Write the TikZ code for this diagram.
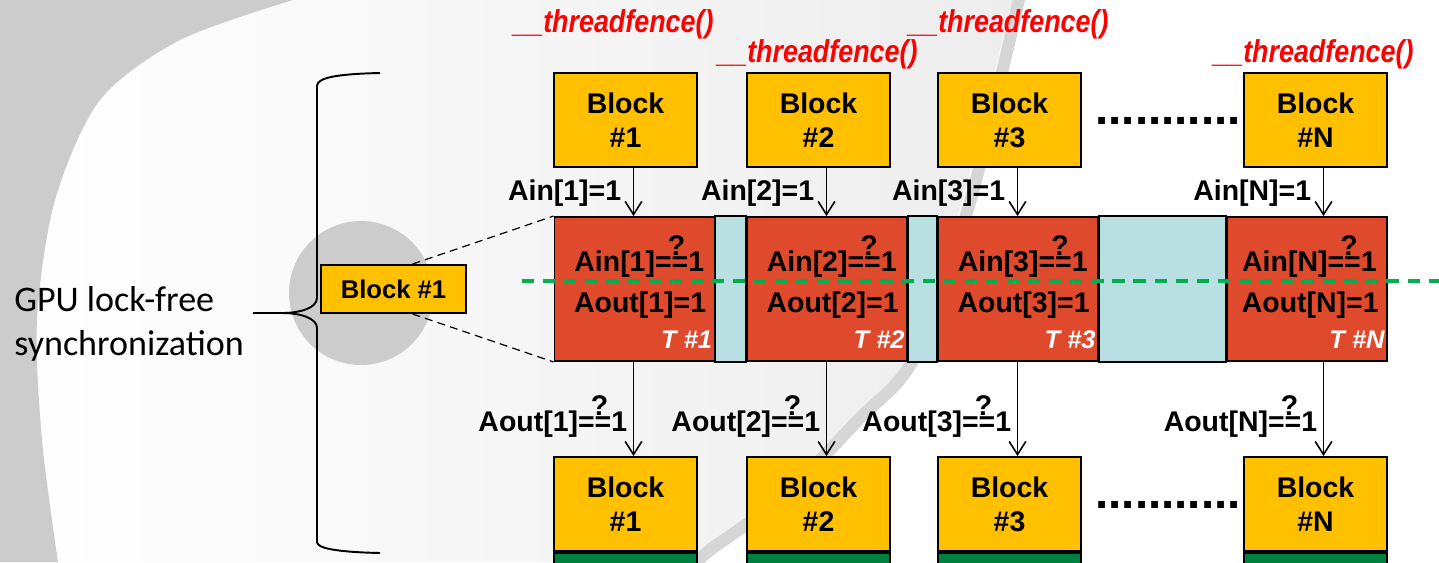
\documentclass[tikz,border=0pt]{standalone}
\usepackage{fontspec}
\setmainfont{Liberation Sans}
\newfontfamily\calibrifont{Carlito}
\newfontfamily\fencefont[FakeStretch=0.85]{Liberation Sans}
\usetikzlibrary{arrows.meta,calc}
\definecolor{blkyellow}{HTML}{FFC000}
\definecolor{cellred}{HTML}{E04A2C}
\definecolor{gapblue}{HTML}{B8DFE2}
\definecolor{syncgreen}{HTML}{00B050}
\definecolor{stripgreen}{HTML}{00803F}
\definecolor{fencered}{HTML}{FF0000}
\newcommand{\qeq}{\makebox[0pt][l]{\hspace{0.45em}\raisebox{0.55em}{?}}==}

\begin{document}
\begin{tikzpicture}[x=0.02cm, y=-0.02cm,
  blk/.style={draw, line width=1.1pt, fill=blkyellow, minimum width=2.86cm,
    minimum height=1.88cm, inner sep=0pt, align=center,
    font=\bfseries\fontsize{16.2}{19.3}\selectfont},
  cell/.style={draw, line width=1.1pt, fill=cellred, minimum width=3.2cm,
    minimum height=2.88cm, inner sep=0pt},
  gapbox/.style={draw, line width=1.1pt, fill=gapblue},
  strip/.style={draw, line width=1.1pt, fill=stripgreen, minimum width=2.86cm,
    minimum height=0.4cm, inner sep=0pt},
  lbl/.style={inner sep=0pt, font=\bfseries\fontsize{16.2}{19.3}\selectfont},
  tlbl/.style={inner sep=0pt, text=white, font=\bfseries\itshape\fontsize{14.5}{17}\selectfont},
  fence/.style={inner sep=0pt, text=fencered, font=\fencefont\bfseries\itshape\fontsize{18}{21}\selectfont},
  dotrow/.style={inner sep=0pt, font=\bfseries\fontsize{27}{30}\selectfont},
  arr/.style={-{Straight Barb[length=7.5pt,width=9.5pt]}, line width=0.9pt},
  zoomline/.style={dash pattern=on 4.5pt off 3pt, line width=0.7pt},
  syncline/.style={draw=syncgreen, line width=2pt, dash pattern=on 7pt off 5pt}]
\useasboundingbox (0,0) rectangle (1439,562);
\clip (0,0) rectangle (1439,562);
% ----- background swirl -----
\fill[white] (0,0) rectangle (1439,562);
\shade[left color=white, right color=black!7] (0,0) -- (1012,0)
  -- plot[smooth] coordinates {(1012,0) (985,110) (958,215) (907,360) (853,417) (780,493) (707,547) (690,562)}
  -- (0,562) -- cycle;
\draw[line width=7pt, black!16] plot[smooth] coordinates
  {(1020,-5) (993,110) (966,215) (913,360) (858,420) (783,497) (710,550) (690,570)};
\fill[black!20] (0,0) -- plot[smooth] coordinates
  {(293,0) (180,40) (100,100) (55,200) (37,320) (42,440) (58,562)} -- (0,562) -- cycle;
\fill[black!20] (361,293) circle (72);
% ----- left: one block zoomed -----
\node[blk, minimum width=2.9cm, minimum height=0.96cm,
  font=\bfseries\fontsize{14.6}{17}\selectfont] (blk0) at (393.5,289) {Block \#1};
\draw[line width=1.1pt] (380,73) .. controls (335,74) and (317,78) .. (317,86)
  -- (317,298) .. controls (317,308) and (300,313) .. (282,313) -- (253,313)
  (282,313) .. controls (300,313) and (317,318) .. (317,328)
  -- (317,542) .. controls (317,548) and (335,552) .. (380,553);
\node[inner sep=0pt, anchor=base west, align=left,
  font=\calibrifont\fontsize{20.5}{25}\selectfont] (gpu) at (14,355)
  {GPU lock-free\\synchronization};
% ----- blocks, top and bottom -----
\foreach \k/\xb in {1/625.5, 2/818.5, 3/1009.5, N/1315.5}{
  \node[blk] (t\k) at (\xb,120) {Block\\\#\k};
  \node[blk] (b\k) at (\xb,504) {Block\\\#\k};
  \node[strip, anchor=north] (s\k) at (b\k.south) {};
  \coordinate (a\k) at ($(t\k.south)+(8,0)$);
  \coordinate (d\k) at ($(b\k.north)+(8,0)$);
}
\node[dotrow, anchor=base] (dtop) at (1168,124) {...........};
\node[dotrow, anchor=base] (dbot) at (1168,508) {...........};
% ----- threadfences -----
\node[fence, anchor=base west] (f1) at (513,32) {\_\_threadfence()};
\node[fence, anchor=base west] (f2) at (717,62) {\_\_threadfence()};
\node[fence, anchor=base west] (f3) at (908,32) {\_\_threadfence()};
\node[fence, anchor=base west] (fN) at (1213,62) {\_\_threadfence()};
% ----- middle row: one cell per thread -----
\foreach \k/\xc in {1/634.5, 2/827, 3/1018, N/1307}
  \node[cell] (c\k) at (\xc,289) {};
\foreach \l/\r in {1/2, 2/3, 3/N}
  \draw[gapbox] (c\l.north east) rectangle (c\r.south west);
\draw[zoomline] ($(blk0.north)+(19,0)$) -- (c1.north west);
\draw[zoomline] ($(blk0.south)+(19,0)$) -- (c1.south west);
\draw[syncline] (522,281) -- (1445,281);
\foreach \k in {1,2,3,N}{
  \node[lbl, anchor=base east] (ci\k) at ($(c\k.north east)+(-11,55)$) {Ain[\k]\qeq1};
  \node[lbl, anchor=base east] (co\k) at ($(c\k.north east)+(-9,96)$) {Aout[\k]=1};
  \node[tlbl, anchor=base east] (ct\k) at ($(c\k.north east)+(-3,132)$) {T \#\k};
  \draw[arr] (a\k) -- (a\k |- c\k.north);
  \node[lbl, anchor=base east] (ain\k) at ($(a\k)+(-12,33)$) {Ain[\k]=1};
  \draw[arr] (d\k |- c\k.south) -- (d\k);
  \node[lbl, anchor=base east] (aout\k) at ($(d\k)+(-6,-25)$) {Aout[\k]\qeq1};
}
\end{tikzpicture}
\end{document}
